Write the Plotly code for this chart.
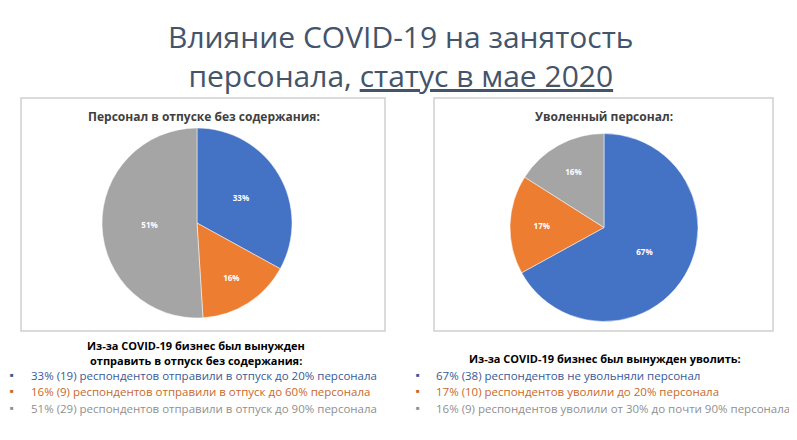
import plotly.graph_objects as go

# data
colors = ["#4472C4", "#ED7D31", "#A5A5A5"]
text_colors = ["#3A5A96", "#C8692B", "#8F8F8F"]

leave_labels = ["до 20% персонала", "до 60% персонала", "до 90% персонала"]
leave_pct = [33, 16, 51]
leave_resp = [19, 9, 29]

fired_labels = ["не увольняли", "до 20% персонала", "от 30% до почти 90%"]
fired_pct = [67, 17, 16]
fired_resp = [38, 10, 9]

leave_notes = [
    "33% (19) респондентов отправили в отпуск до 20% персонала",
    "16% (9) респондентов отправили в отпуск до 60% персонала",
    "51% (29) респондентов отправили в отпуск до 90% персонала",
]
fired_notes = [
    "67% (38) респондентов не увольняли персонал",
    "17% (10) респондентов уволили до 20% персонала",
    "16% (9) респондентов уволили от 30% до почти 90% персонала",
]

FONT = "Open Sans"
# the page body has an 8px margin, so the figure is a bit smaller
OFF = 8
W, H = 789, 432

fig = go.Figure()


def px_x(x):
    return (x - OFF) / W


def px_y(y):
    return 1 - (y - OFF) / H


def add_pie(labels, vals, x0, x1, y0, y1):
    fig.add_trace(go.Pie(
        labels=labels, values=vals, sort=False, direction="clockwise",
        rotation=0, hole=0,
        marker=dict(colors=colors, line=dict(color="white", width=0.5)),
        texttemplate="<b>%{value}%</b>", textposition="inside",
        insidetextorientation="horizontal",
        textfont=dict(family=FONT, size=8, color="white"),
        domain=dict(x=[px_x(x0), px_x(x1)], y=[px_y(y1), px_y(y0)]),
        showlegend=False, hoverinfo="label+value",
    ))


add_pie(leave_labels, leave_pct, 102, 292, 128, 318)
add_pie(fired_labels, fired_pct, 510, 698, 133, 322)

# chart boxes
for x0, x1 in [(21, 385), (434, 773)]:
    fig.add_shape(type="rect", xref="paper", yref="paper",
                  x0=px_x(x0), x1=px_x(x1), y0=px_y(331), y1=px_y(98),
                  line=dict(color="#D0D0D0", width=1.5), fillcolor="rgba(0,0,0,0)")

ann = []


def add_text(text, x, y, size, color, xanchor="center", bold=False):
    if bold:
        text = "<b>" + text + "</b>"
    ann.append(dict(text=text, x=px_x(x), y=px_y(y), xref="paper", yref="paper",
                    xanchor=xanchor, yanchor="middle", showarrow=False,
                    font=dict(family=FONT, size=size, color=color)))


add_text("Влияние COVID-19 на занятость<br>персонала, <u>статус в мае 2020</u>",
         401, 56, 30, "#44546A")

add_text("Персонал в отпуске без содержания:", 204, 116, 12, "#404040", bold=True)
add_text("Уволенный персонал:", 604, 116, 12, "#404040", bold=True)

add_text("Из-за COVID-19 бизнес был вынужден", 196, 345, 11, "#000000", bold=True)
add_text("отправить в отпуск без содержания:", 196, 360, 11, "#000000", bold=True)
add_text("Из-за COVID-19 бизнес был вынужден уволить:", 605, 358, 11, "#000000", bold=True)

line_y = [375, 391, 408]
for i, note in enumerate(leave_notes):
    add_text("■", 8, line_y[i], 6, text_colors[i], xanchor="left")
    add_text(note, 29, line_y[i], 11.5, text_colors[i], xanchor="left")
for i, note in enumerate(fired_notes):
    add_text("■", 414, line_y[i], 6, text_colors[i], xanchor="left")
    add_text(note, 434, line_y[i], 11.5, text_colors[i], xanchor="left")

fig.update_layout(
    width=W, height=H,
    margin=dict(l=0, r=0, t=0, b=0),
    paper_bgcolor="white", plot_bgcolor="white",
    annotations=ann,
)

fig.write_html("out.html")
